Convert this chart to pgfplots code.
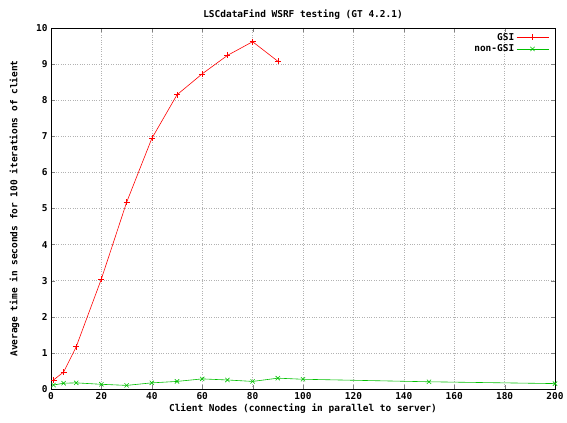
\documentclass[border=0pt]{standalone}
\usepackage{fontspec}
\setmainfont{DejaVu Sans Mono}
\usepackage{pgfplots}
\pgfplotsset{compat=1.18}
\definecolor{gpgreen}{RGB}{0,192,0}

\begin{document}
\begin{tikzpicture}
\begin{axis}[
    at={(0,0)}, anchor=south west,
    scale only axis,
    width=504bp, height=361bp,
    xmin=0, xmax=200, ymin=0, ymax=10,
    xtick={0,20,...,200},
    ytick={0,1,...,10},
    grid=major,
    major grid style={gray!60, dotted, line width=0.6pt},
    tick align=inside,
    tick pos=both,
    major tick length=4bp,
    axis line style={black, line width=0.8pt},
    /pgf/number format/assume math mode=true,
    tick label style={font=\fontsize{9.5}{11}\selectfont\bfseries},
    label style={font=\fontsize{9.5}{11}\selectfont\bfseries},
    title style={font=\fontsize{9.5}{11}\selectfont\bfseries, yshift=-1bp},
    title={LSCdataFind WSRF testing (GT 4.2.1)},
    xlabel={Client Nodes (connecting in parallel to server)},
    ylabel={Average time in seconds for 100 iterations of client},
    xlabel style={yshift=3bp},
    ylabel style={yshift=10bp},
    legend style={at={(1,1)}, anchor=north east, xshift=-5bp, yshift=-2bp,
        draw=none, fill=none, font=\fontsize{9.5}{11}\selectfont\bfseries,
        row sep=-1bp, inner sep=1bp},
    legend plot pos=right,
    legend cell align=right,
    legend image code/.code={
        \draw[#1, mark repeat=2, mark phase=2] plot coordinates {(0bp,0bp) (16bp,0bp) (32bp,0bp)};
    },
]
\addplot[red, line width=0.6pt, mark=+, mark size=3bp] coordinates {
    (1,0.25) (5,0.47) (10,1.17) (20,3.05) (30,5.17) (40,6.94)
    (50,8.15) (60,8.73) (70,9.24) (80,9.62) (90,9.08)
};
\addlegendentry{GSI}
\addplot[gpgreen, line width=0.6pt, mark=x, mark size=3bp] coordinates {
    (1,0.11) (5,0.16) (10,0.17) (20,0.13) (30,0.10) (40,0.17)
    (50,0.21) (60,0.28) (70,0.25) (80,0.21) (90,0.30) (100,0.27)
    (150,0.20) (200,0.15)
};
\addlegendentry{non-GSI}
\end{axis}
\useasboundingbox (-51bp,-34bp) rectangle (516bp,389bp);
\end{tikzpicture}
\end{document}
